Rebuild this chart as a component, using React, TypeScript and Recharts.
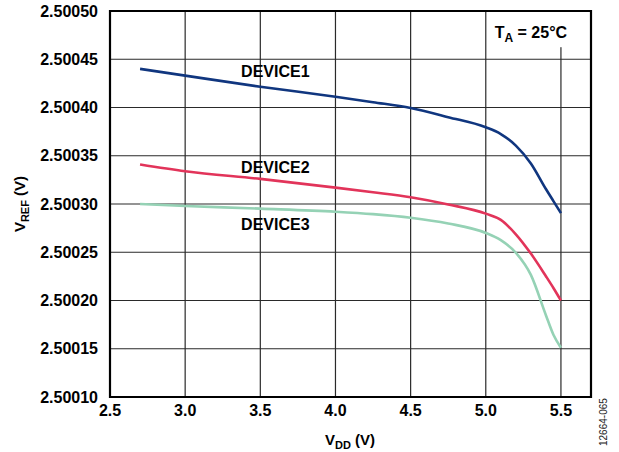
import { LineChart, Line, XAxis, YAxis, CartesianGrid, ReferenceArea, ReferenceDot } from "recharts";

const vdd = [2.7, 3.0, 3.5, 4.0, 4.25, 4.5, 4.75, 5.0, 5.1, 5.2, 5.3, 5.4, 5.45, 5.5];
const device1 = [2.50044, 2.500433, 2.5004215, 2.5004112, 2.5004055, 2.5003995, 2.50039, 2.5003795, 2.5003725, 2.5003605, 2.500342, 2.5003155, 2.500303, 2.5002905];
const device2 = [2.500341, 2.500334, 2.500326, 2.500317, 2.5003122, 2.500307, 2.5002995, 2.50029, 2.5002835, 2.5002686, 2.5002486, 2.5002252, 2.500213, 2.5002];
const device3 = [2.5003, 2.500298, 2.5002952, 2.500292, 2.5002895, 2.5002858, 2.5002798, 2.50027, 2.5002625, 2.5002495, 2.5002265, 2.5001848, 2.5001645, 2.500151];

const xTicks = [2.5, 3.0, 3.5, 4.0, 4.5, 5.0, 5.5];
const yTicks = [2.5001, 2.50015, 2.5002, 2.50025, 2.5003, 2.50035, 2.5004, 2.50045, 2.5005];

const seriesLabels = [
  { name: "DEVICE1", x: 3.6, y: 2.500437 },
  { name: "DEVICE2", x: 3.6, y: 2.500338 },
  { name: "DEVICE3", x: 3.6, y: 2.500279 },
];

const data = vdd.map((v, i) => ({ vdd: v, d1: device1[i], d2: device2[i], d3: device3[i] }));

const FONT = '"Liberation Sans", Arial, Helvetica, sans-serif';

export default function App() {
  return (
    <div style={{ position: "absolute", left: 0, top: 0, width: 619, height: 452, background: "#fff" }}>
      <LineChart width={619} height={452} data={data} margin={{ top: 11, right: 28, bottom: 0, left: 0 }}>
        <CartesianGrid stroke="#2a2a2a" strokeWidth={1.2} />
        <XAxis
          dataKey="vdd"
          type="number"
          domain={[2.5, 5.7]}
          ticks={xTicks}
          tickFormatter={(v: number) => v.toFixed(1)}
          tickLine={false}
          tickSize={0}
          tickMargin={8}
          axisLine={false}
          height={55}
          tick={{ fill: "#000", fontSize: 16, fontWeight: 700, fontFamily: FONT }}
          label={{
            content: () => (
              <text x={350} y={445} textAnchor="middle" fontFamily={FONT} fontWeight={700} fontSize={15} fill="#000">
                <tspan>V</tspan>
                <tspan fontSize={11} dy={4}>DD</tspan>
                <tspan dy={-4}> (V)</tspan>
              </text>
            ),
          }}
        />
        <YAxis
          type="number"
          domain={[2.5001, 2.5005]}
          ticks={yTicks}
          tickFormatter={(v: number) => v.toFixed(5)}
          tickLine={false}
          tickSize={0}
          tickMargin={12}
          axisLine={false}
          width={110}
          tick={{ fill: "#000", fontSize: 16, fontWeight: 700, fontFamily: FONT }}
          label={{
            content: () => (
              <text
                x={25}
                y={204}
                transform="rotate(-90, 25, 204)"
                textAnchor="middle"
                fontFamily={FONT}
                fontWeight={700}
                fontSize={15}
                fill="#000"
              >
                <tspan>V</tspan>
                <tspan fontSize={11} dy={4}>REF</tspan>
                <tspan dy={-4}> (V)</tspan>
              </text>
            ),
          }}
        />
        <Line type="monotone" dataKey="d1" stroke="#10367f" strokeWidth={2.6} dot={false} isAnimationActive={false} />
        <Line type="monotone" dataKey="d2" stroke="#e2345a" strokeWidth={2.6} dot={false} isAnimationActive={false} />
        <Line type="monotone" dataKey="d3" stroke="#95d2b5" strokeWidth={2.6} dot={false} isAnimationActive={false} />
        {seriesLabels.map((s) => (
          <ReferenceDot
            key={s.name}
            x={s.x}
            y={s.y}
            r={0}
            fill="none"
            stroke="none"
            label={{ value: s.name, position: "center", fill: "#000", fontSize: 16, fontWeight: 700, fontFamily: FONT }}
          />
        ))}
        <ReferenceDot
          x={5.3}
          y={2.500477}
          r={0}
          fill="none"
          stroke="none"
          label={{
            content: (p: any) => {
              const cx = p.viewBox?.x ?? 0;
              const cy = p.viewBox?.y ?? 0;
              return (
                <g>
                  <rect x={cx - 43} y={12} width={87} height={cy + 14 - 12} fill="#fff" />
                  <text x={cx} y={cy + 5} textAnchor="middle" fontFamily={FONT} fontWeight={700} fontSize={16} fill="#000">
                    <tspan>T</tspan>
                    <tspan fontSize={12} dy={4}>A</tspan>
                    <tspan dy={-4}> = 25°C</tspan>
                  </text>
                </g>
              );
            },
          }}
        />
        <ReferenceArea x1={2.5} x2={5.7} y1={2.5001} y2={2.5005} fill="none" stroke="#000" strokeWidth={2.2} ifOverflow="visible" />
      </LineChart>
      <div
        style={{
          position: "absolute",
          left: 598,
          top: 446,
          transform: "rotate(-90deg)",
          transformOrigin: "0 0",
          fontFamily: FONT,
          fontSize: 10,
          color: "#222",
          whiteSpace: "nowrap",
        }}
      >
        12664-065
      </div>
    </div>
  );
}
